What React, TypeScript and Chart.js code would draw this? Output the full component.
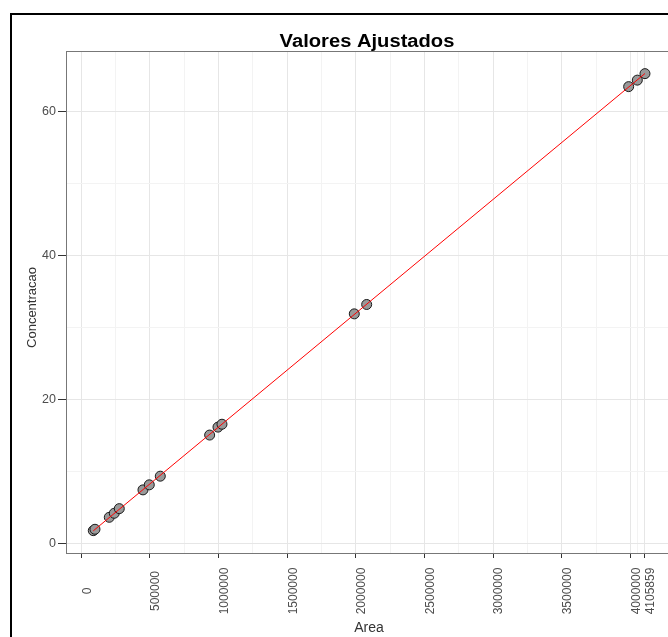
import React, { useEffect, useRef } from "react";
import { Chart, registerables } from "chart.js";

Chart.register(...registerables);

// ---- data ----
const areaValues = [87400, 99800, 204000, 240400, 276800, 449400, 495300, 575500, 935000, 995700, 1024800, 1988600, 2078800, 3987000, 4050000, 4105859];
const concValues = [1.85, 2.04, 3.7, 4.26, 4.9, 7.5, 8.2, 9.4, 15.1, 16.2, 16.6, 31.9, 33.2, 63.4, 64.3, 65.2];

const xMajorTicks = [0, 500000, 1000000, 1500000, 2000000, 2500000, 3000000, 3500000, 4000000, 4105859];
const xMinorTicks = [250000, 750000, 1250000, 1750000, 2250000, 2750000, 3250000, 3750000, 4052929.5];
const yMajorTicks = [0, 20, 40, 60];
const yMinorTicks = [10, 30, 50];
const xLimits = [-104000, 4310000];
const yLimits = [-1.25, 68.2];

const chartTitle = "Valores Ajustados";
const xTitle = "Area";
const yTitle = "Concentracao";

// least-squares fitted line from the data
function fitLine(xs: number[], ys: number[]) {
  const n = xs.length;
  const mx = xs.reduce((a, b) => a + b, 0) / n;
  const my = ys.reduce((a, b) => a + b, 0) / n;
  let sxy = 0, sxx = 0;
  for (let i = 0; i < n; i++) {
    sxy += (xs[i] - mx) * (ys[i] - my);
    sxx += (xs[i] - mx) * (xs[i] - mx);
  }
  const slope = sxy / sxx;
  const intercept = my - slope * mx;
  return { slope, intercept };
}

const W = 690;
const H = 660;
const FONT = '"Liberation Sans", Arial, Helvetica, sans-serif';

const decorPlugin = {
  id: "decor",
  afterDraw(chart: any) {
    const { ctx, chartArea, scales } = chart;
    const xs = scales.x;
    ctx.save();
    // panel border
    ctx.strokeStyle = "#777";
    ctx.lineWidth = 1;
    ctx.strokeRect(chartArea.left - 0.5, chartArea.top - 0.5, chartArea.right - chartArea.left + 1, chartArea.bottom - chartArea.top + 1);

    // title
    const cx = (chartArea.left + chartArea.right) / 2 - 3;
    ctx.save();
    ctx.fillStyle = "#000";
    ctx.font = `bold 18px ${FONT}`;
    ctx.textAlign = "center";
    ctx.textBaseline = "alphabetic";
    ctx.translate(cx, 47);
    ctx.scale(1.12, 1);
    ctx.fillText(chartTitle, 0, 0);
    ctx.restore();

    // x tick labels (rotated, centred)
    ctx.fillStyle = "#4d4d4d";
    ctx.font = `12px ${FONT}`;
    for (const v of xMajorTicks) {
      const px = xs.getPixelForValue(v);
      ctx.save();
      ctx.translate(px + 6, 591);
      ctx.rotate(-Math.PI / 2);
      ctx.textAlign = "center";
      ctx.textBaseline = "middle";
      ctx.fillText(String(v), 0, 0);
      ctx.restore();
    }

    // x axis title
    ctx.fillStyle = "#333";
    ctx.font = `14px ${FONT}`;
    ctx.textAlign = "center";
    ctx.textBaseline = "alphabetic";
    ctx.fillText(xTitle, cx + 2, 632);

    // y axis title
    ctx.save();
    ctx.translate(36, (chartArea.top + chartArea.bottom) / 2 + 5);
    ctx.rotate(-Math.PI / 2);
    ctx.textAlign = "center";
    ctx.textBaseline = "alphabetic";
    ctx.font = `13px ${FONT}`;
    ctx.fillStyle = "#333";
    ctx.fillText(yTitle, 0, 0);
    ctx.restore();

    ctx.restore();
  },
};

export default function App() {
  const ref = useRef<HTMLCanvasElement | null>(null);

  useEffect(() => {
    if (!ref.current) return;
    const { slope, intercept } = fitLine(areaValues, concValues);
    const xMinData = Math.min(...areaValues);
    const xMaxData = Math.max(...areaValues);
    const fitted = [
      { x: xMinData, y: intercept + slope * xMinData },
      { x: xMaxData, y: intercept + slope * xMaxData },
    ];
    const points = areaValues.map((x, i) => ({ x, y: concValues[i] }));

    const xAll = [...xMajorTicks, ...xMinorTicks].sort((a, b) => a - b);
    const yAll = [...yMajorTicks, ...yMinorTicks].sort((a, b) => a - b);

    const chart = new Chart(ref.current, {
      type: "scatter",
      data: {
        datasets: [
          {
            type: "line",
            label: "Ajuste",
            data: fitted,
            borderColor: "#ff0000",
            borderWidth: 1,
            pointRadius: 0,
            fill: false,
            order: 0,
          } as any,
          {
            label: "Concentracao",
            data: points,
            backgroundColor: "#999999",
            borderColor: "#1a1a1a",
            borderWidth: 1,
            pointRadius: 5,
            order: 1,
          },
        ],
      },
      options: {
        animation: false,
        responsive: false,
        devicePixelRatio: 1,
        layout: { padding: { left: 0, top: 52, right: W - 673, bottom: 0 } },
        plugins: {
          legend: { display: false },
          tooltip: { enabled: false },
          title: { display: false },
        },
        scales: {
          x: {
            type: "linear",
            min: xLimits[0],
            max: xLimits[1],
            afterBuildTicks: (scale: any) => {
              scale.ticks = xAll.map((v) => ({ value: v }));
            },
            afterFit: (scale: any) => {
              scale.height = H - 553;
            },
            ticks: { display: false, autoSkip: false },
            border: { display: false },
            grid: {
              color: (c: any) => (c.tick && xMajorTicks.includes(c.tick.value) ? "#e6e6e6" : "#f3f3f3"),
              tickColor: (c: any) => (c.tick && xMajorTicks.includes(c.tick.value) ? "#333" : "rgba(0,0,0,0)"),
              tickLength: 5,
              lineWidth: 1,
            },
          },
          y: {
            type: "linear",
            min: yLimits[0],
            max: yLimits[1],
            afterBuildTicks: (scale: any) => {
              scale.ticks = yAll.map((v) => ({ value: v }));
            },
            afterFit: (scale: any) => {
              scale.width = 67;
            },
            ticks: {
              autoSkip: false,
              padding: 2,
              color: "#4d4d4d",
              font: { family: FONT, size: 12.5 },
              callback: (v: any) => (yMajorTicks.includes(Number(v)) ? String(v) : ""),
            },
            border: { display: false },
            grid: {
              color: (c: any) => (c.tick && yMajorTicks.includes(c.tick.value) ? "#e6e6e6" : "#f3f3f3"),
              tickColor: (c: any) => (c.tick && yMajorTicks.includes(c.tick.value) ? "#333" : "rgba(0,0,0,0)"),
              tickLength: 9,
              lineWidth: 1,
            },
          },
        },
      },
      plugins: [decorPlugin],
    });
    return () => chart.destroy();
  }, []);

  return (
    <div style={{ position: "absolute", left: 0, top: 0, width: 668, height: 637, overflow: "hidden", background: "#fff" }}>
      <div
        style={{
          position: "absolute",
          left: 10,
          top: 13,
          width: 700,
          height: 700,
          borderLeft: "2px solid #000",
          borderTop: "2px solid #000",
        }}
      />
      <canvas ref={ref} width={W} height={H} style={{ position: "absolute", left: 0, top: 0, width: W, height: H }} />
    </div>
  );
}
